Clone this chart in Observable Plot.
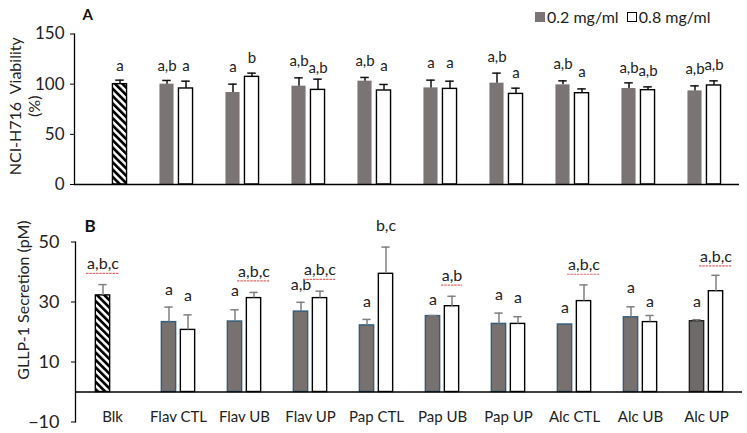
<!DOCTYPE html>
<html><head><meta charset="utf-8">
<script src="https://cdn.jsdelivr.net/npm/d3@7"></script>
<script src="https://cdn.jsdelivr.net/npm/@observablehq/plot@0.6"></script>
<style>
body{margin:0;background:#fff;font-family:Lato,sans-serif;}
#wrap{position:relative;width:747px;height:433px;overflow:hidden;background:#fff}
#wrap svg{display:block}
.legend{position:absolute;top:7px;left:535px;font:16px Lato,sans-serif;color:#222;display:flex;align-items:center;white-space:nowrap}
.sw{display:inline-block;width:10px;height:10px;box-sizing:border-box;margin-right:2px}
</style></head>
<body>
<svg width="0" height="0" style="position:absolute"><defs>
<pattern id="hatch" patternUnits="userSpaceOnUse" width="5.2" height="5.2" patternTransform="rotate(-45)">
<rect width="5.2" height="5.2" fill="#fff"/><rect width="2.7" height="5.2" fill="#000"/></pattern></defs></svg>
<div id="wrap">
  <div class="legend"><span class="sw" style="background:#7a7474"></span>0.2 mg/ml&nbsp;&nbsp;<span class="sw" style="background:#fff;border:1px solid #000"></span>0.8 mg/ml</div>
</div>
<script>
// ---------- data ----------
const categories = ["Blk","Flav CTL","Flav UB","Flav UP","Pap CTL","Pap UB","Pap UP","Alc CTL","Alc UB","Alc UP"];
const treatments = categories.slice(1);
const seriesNames = ["0.2 mg/ml","0.8 mg/ml"];

// Panel A: NCI-H716 viability (%)
const blkViability = 100, blkViabilitySD = 4, blkViabilityLabel = "a", blkViabilityLabelY = 118;
const viabilityLow   = [100, 91.7, 98, 103, 96.3, 101, 99.3, 95.7, 93.3];
const viabilityLowSD = [3.7, 8.3, 8.3, 3.7, 7.7, 10, 4, 5.6, 5];
const viabilityHigh   = [95.7, 107.3, 94.3, 93.7, 95.3, 90.3, 91, 94, 98.7];
const viabilityHighSD = [7.3, 3.7, 10.7, 6, 7.7, 5.7, 4.3, 3.3, 4.6];
const viabilityLowLabels  = ["a,b","a","a,b","a,b","a","a,b","a,b","a,b","a,b"];
const viabilityLowLabelY  = [118, 117, 123, 123, 120.7, 127, 119.7, 116.3, 115];
const viabilityHighLabels = ["a","b","a,b","a","a","a","a","a,b","a,b"];
const viabilityHighLabelY = [118, 126, 116, 118, 120.7, 110.7, 112.3, 113.3, 118.7];
const viabilityTicks = [0, 50, 100, 150];

// Panel B: GLP-1 secretion (pM)
const blkSecretion = 32.2, blkSecretionSD = 3.6, blkSecretionLabel = "a,b,c", blkSecretionLabelY = 42.7, blkSecretionSpell = true;
const secretionLow   = [23.3, 23.5, 26.8, 22.2, 25.3, 22.7, 22.5, 24.9, 23.6];
const secretionLowSD = [5.0, 3.9, 3.1, 2.0, 0.2, 3.6, 0, 3.5, 0.5];
const secretionHigh   = [20.7, 31.3, 31.3, 39.4, 28.6, 22.7, 30.3, 23.3, 33.6];
const secretionHighSD = [5.0, 1.9, 2.3, 8.9, 3.3, 2.4, 5.4, 2.2, 5.3];
const secretionLowLabels  = ["a","a","a,b","a","a","a","a","a","a"];
const secretionLowLabelY  = [34, 33.8, 35.8, 30, 30.8, 32.5, 28.1, 34.7, 30];
const secretionHighLabels = ["a","a,b,c","a,b,c","b,c","a,b","a","a,b,c","a","a,b,c"];
const secretionHighLabelY = [32, 40.2, 40.7, 55.5, 38.8, 31.3, 42.4, 30.2, 45.2];
// labels carrying the red spell-check underline in the reference
const secretionHighSpell  = [false, true, true, false, true, false, true, false, true];
const secretionTicks = [-10, 10, 30, 50];

// ---------- build rows ----------
function buildRows(blk, blkSlot, low, lowSD, lowLab, lowLY, high, highSD, highLab, highLY, highSpell) {
  const rows = [{cat: "Blk", slot: blkSlot, kind: "blk", mean: blk[0], sd: blk[1], label: blk[2], labelY: blk[3], spell: !!blk[4]}];
  treatments.forEach((c, i) => {
    rows.push({cat: c, slot: "L", kind: "low", series: seriesNames[0], mean: low[i], sd: lowSD[i], label: lowLab[i], labelY: lowLY[i], spell: false});
    rows.push({cat: c, slot: "R", kind: "high", series: seriesNames[1], mean: high[i], sd: highSD[i], label: highLab[i], labelY: highLY[i], spell: highSpell ? highSpell[i] : false});
  });
  return rows;
}

const rowsA = buildRows([blkViability, blkViabilitySD, blkViabilityLabel, blkViabilityLabelY, false], "R",
  viabilityLow, viabilityLowSD, viabilityLowLabels, viabilityLowLabelY,
  viabilityHigh, viabilityHighSD, viabilityHighLabels, viabilityHighLabelY, null);

const rowsB = buildRows([blkSecretion, blkSecretionSD, blkSecretionLabel, blkSecretionLabelY, blkSecretionSpell], "L",
  secretionLow, secretionLowSD, secretionLowLabels, secretionLowLabelY,
  secretionHigh, secretionHighSD, secretionHighLabels, secretionHighLabelY, secretionHighSpell);
rowsB.forEach(r => {
  if (r.kind === "low") {
    r.fill = r.cat === "Alc UP" ? "#6e6a6a" : "#77716f";
    r.stroke = r.cat === "Alc UP" ? "#222" : "#2f5d7e";
  }
});

// ---------- panel factory ----------
function panel(rows, cfg) {
  const bw = (cfg.width - cfg.marginLeft - cfg.marginRight) / categories.length;
  const barW = cfg.barW, off = {L: -9.5, R: 9.5}, capW = 9;
  const marks = [];
  for (const slot of ["L", "R"]) {
    const o = off[slot];
    const insL = bw / 2 + o - barW / 2, insR = bw - insL - barW;
    const rs = rows.filter(r => r.slot === slot);
    const blk = rs.filter(r => r.kind === "blk");
    const low = rs.filter(r => r.kind === "low");
    const high = rs.filter(r => r.kind === "high");
    marks.push(Plot.barY(blk, {x: "cat", y: "mean", fill: "url(#hatch)", stroke: "#000", strokeWidth: 1.4, insetLeft: insL, insetRight: insR}));
    if (cfg.lowStroke)
      marks.push(Plot.barY(low, {x: "cat", y: "mean", fill: d => d.fill, stroke: d => d.stroke, strokeWidth: 1.4, insetLeft: insL, insetRight: insR}));
    else
      marks.push(Plot.barY(low, {x: "cat", y: "mean", fill: cfg.lowFill, insetLeft: insL, insetRight: insR}));
    marks.push(Plot.barY(high, {x: "cat", y: "mean", fill: "#fff", stroke: "#000", strokeWidth: 1.4, insetLeft: insL, insetRight: insR}));
    const er = rs.filter(r => r.sd > 0.15);
    marks.push(Plot.ruleX(er, {x: "cat", y1: "mean", y2: d => d.mean + d.sd, dx: o, stroke: cfg.errColor, strokeWidth: 1.5}));
    marks.push(Plot.tickY(er, {x: "cat", y: d => d.mean + d.sd, insetLeft: bw / 2 + o - capW / 2, insetRight: bw / 2 - o - capW / 2, stroke: cfg.errColor, strokeWidth: 1.5}));
    marks.push(Plot.text(rs, {x: "cat", y: "labelY", text: "label", dx: o, fontSize: cfg.labelSize, fill: "#222"}));
    for (const r of rs.filter(r => r.spell)) {
      const w = r.label.length * cfg.labelSize * 0.37 + 4;
      marks.push(Plot.tickY([r], {x: "cat", y: "labelY", dy: cfg.labelSize * 0.5 + 1.5, insetLeft: bw / 2 + o - w / 2, insetRight: bw / 2 - o - w / 2, stroke: "#e06a6a", strokeWidth: 1.1, strokeDasharray: "2.5,0.8"}));
    }
  }
  return Plot.plot({
    width: cfg.width, height: cfg.height,
    marginLeft: cfg.marginLeft, marginRight: cfg.marginRight, marginTop: cfg.marginTop, marginBottom: cfg.marginBottom,
    style: {fontFamily: "Lato, sans-serif", color: "#222", background: "#fff", overflow: "visible"},
    x: {domain: categories, padding: 0, axis: null},
    y: {domain: cfg.yDomain},
    color: {type: "identity"},
    marks: [
      ...marks,
      Plot.frame({anchor: "left", strokeWidth: 1.3, stroke: "#000"}),
      Plot.ruleY([0], {stroke: "#000", strokeWidth: 1.3}),
      Plot.axisY({ticks: cfg.ticks, tickSize: 4, tickPadding: cfg.tickPadding, fontSize: cfg.tickSize, label: null, stroke: "#000"}),
      Plot.text([cfg.yTitle], {text: d => d, frameAnchor: "left", textAnchor: "middle", lineAnchor: "middle", rotate: -90, dx: cfg.titleDx, dy: cfg.titleDy, fontSize: cfg.titleSize, lineHeight: 1.15, fill: "#222"}),
      Plot.text([cfg.panelLetter], {text: d => d, frameAnchor: "top-left", textAnchor: "start", lineAnchor: "middle", dx: cfg.letterDx, dy: cfg.letterDy, fontSize: cfg.letterSize, fontWeight: "bold", fill: "#111"}),
      ...(cfg.xLabels ? [Plot.text(categories, {x: d => d, frameAnchor: "bottom", lineAnchor: "middle", dy: -4.5, fontSize: 15, fill: "#222"})] : [])
    ]
  });
}

const plotA = panel(rowsA, {
  width: 747, height: 200, marginLeft: 74, marginRight: 8, marginTop: 33.5, marginBottom: 16,
  yDomain: [0, 150], ticks: viabilityTicks, tickPadding: 6, tickSize: 17,
  barW: 14.6, lowFill: "#7a7474", errColor: "#111", labelSize: 15,
  yTitle: "NCI-H716\u00a0 Viability\n(%)", titleDx: -50, titleDy: -3, titleSize: 16,
  panelLetter: "A", letterDx: 8, letterDy: -18.5, letterSize: 15, xLabels: false
});
const plotB = panel(rowsB, {
  width: 747, height: 233, marginLeft: 75, marginRight: 5, marginTop: 41.5, marginBottom: 11.5,
  yDomain: [-10, 50], ticks: secretionTicks, tickPadding: 12, tickSize: 18,
  barW: 15, lowStroke: true, errColor: "#808080", labelSize: 16,
  yTitle: "GLLP-1 Secretion (pM)", titleDx: -52, titleDy: -32, titleSize: 16,
  panelLetter: "B", letterDx: 9, letterDy: -15, letterSize: 17, xLabels: true
});
document.getElementById("wrap").append(plotA, plotB);
</script>
</body></html>
